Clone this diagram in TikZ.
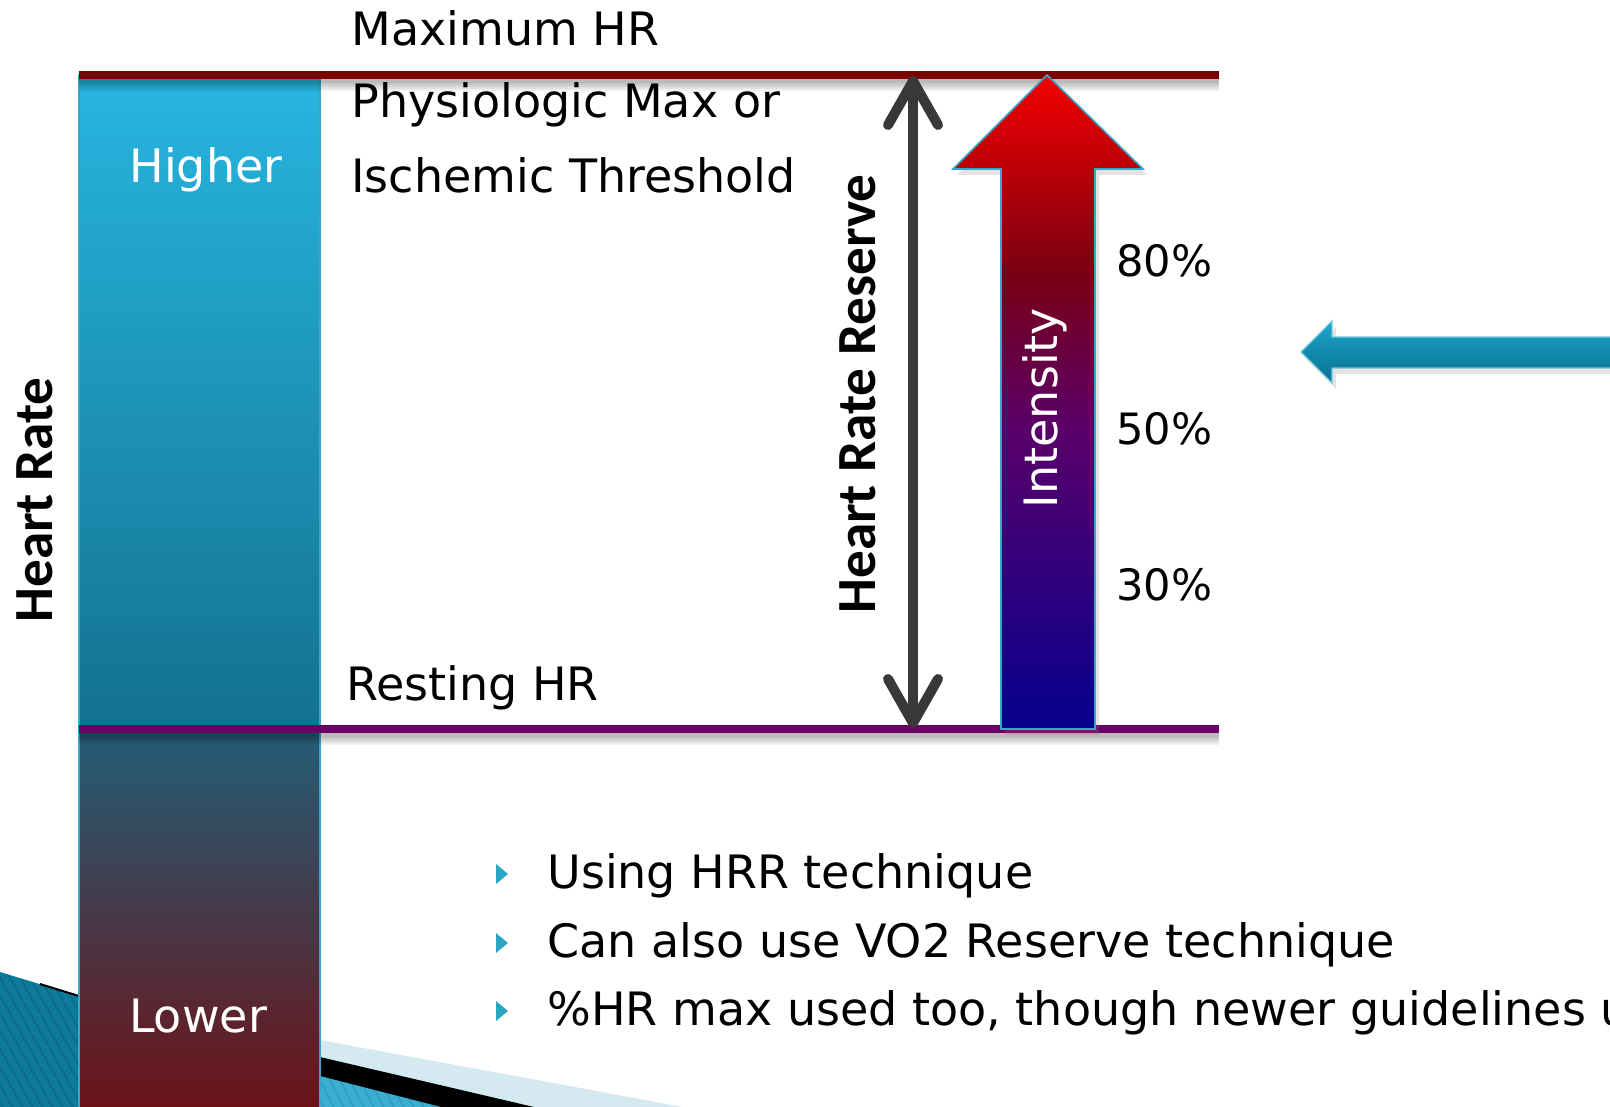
\documentclass[tikz,border=0pt]{standalone}
\usepackage{fontspec}
\setmainfont{DejaVu Sans}
\newfontfamily\labelfont{Carlito}
\usepackage{xcolor}
\usetikzlibrary{arrows.meta, positioning, calc, shadows}

\definecolor{maxline}{HTML}{7A0000}
\definecolor{restline}{HTML}{6A0066}
\definecolor{barTop}{HTML}{27B6E0}
\definecolor{barMid}{HTML}{13718F}
\definecolor{barLowTop}{HTML}{235E77}
\definecolor{barLowMid}{HTML}{463D50}
\definecolor{barLowBot}{HTML}{6C1218}
\definecolor{reserveGray}{HTML}{383838}
\definecolor{hotRed}{HTML}{F40000}
\definecolor{darkRed}{HTML}{7A0012}
\definecolor{plum}{HTML}{5A006A}
\definecolor{deepBlue}{HTML}{06008E}
\definecolor{arrowEdge}{HTML}{3AA6C6}
\definecolor{tealTop}{HTML}{1DA5CB}
\definecolor{tealBot}{HTML}{08708F}
\definecolor{bulletTeal}{HTML}{2AA5C2}
\definecolor{paleBlue}{HTML}{D5E9F1}
\definecolor{cornerTeal}{HTML}{0E7B9C}
\definecolor{cornerLight}{HTML}{3AAFD2}

% red at the top, through plum, to deep blue at the bottom
\pgfdeclareverticalshading{intensity}{100bp}{color(0bp)=(deepBlue); color(25bp)=(deepBlue); color(48bp)=(plum); color(60bp)=(darkRed); color(75bp)=(hotRed); color(100bp)=(hotRed)}

\begin{document}
\begin{tikzpicture}[
  x=0.5pt, y=-0.5pt,
  txt/.style={inner sep=0pt, anchor=base west, font=\fontsize{23}{27}\selectfont},
  bartxt/.style={txt, anchor=base, text=white},
  vlabel/.style={inner sep=0pt, rotate=90, anchor=base,
                 font=\labelfont\bfseries\fontsize{27.6}{31}\selectfont},
  pct/.style={inner sep=0pt, anchor=base west, font=\fontsize{21.6}{26}\selectfont},
  hrline/.style={line width=4pt},
  shadowline/.style={black, opacity=.06},
  reserve/.style={line width=5pt, reserveGray,
                  {Straight Barb[length=22pt,width=25pt,round]}-{Straight Barb[length=22pt,width=25pt,round]}},
  softshadow/.style={drop shadow={shadow xshift=2pt, shadow yshift=-3pt, opacity=.22}}
]
  \useasboundingbox (0,0) rectangle (1610,1107);
  \clip (0,0) rectangle (1610,1107);
  \fill[white] (0,0) rectangle (1610,1107);

  % corner bands
  \begin{scope}
    \clip (0,972) -- (79,996) -- (79,1107) -- (0,1107) -- cycle;
    \fill[cornerTeal] (0,960) rectangle (80,1107);
    \foreach \s in {-120,-110,...,80}
      \draw[black, opacity=.12, line width=1pt] (\s,960) -- ++(90,160);
  \end{scope}
  \draw[black, line width=1pt] (40,984) -- (79,996);
  \fill[paleBlue] (320,1040) -- (683,1107) -- (320,1107) -- cycle;
  \fill[black] (320,1057) -- (534,1107) -- (320,1107) -- cycle;
  \begin{scope}
    \clip (320,1076) -- (441,1107) -- (320,1107) -- cycle;
    \fill[cornerLight] (320,1070) rectangle (445,1107);
    \foreach \s in {240,250,...,440}
      \draw[black, opacity=.1, line width=1pt] (\s,1060) -- ++(30,60);
  \end{scope}

  % heart rate bar
  \fill[top color=barTop, bottom color=barMid] (79,75) rectangle (320,729);
  \fill[top color=barLowTop, middle color=barLowMid, bottom color=barLowBot]
    (79,729) rectangle (320,1110);
  \draw[arrowEdge, line width=.8pt] (79,75) rectangle (320,1112);

  % max and resting lines
  \coordinate (maxL) at (79,75);
  \coordinate (maxR) at (1219,75);
  \coordinate (restL) at (79,729);
  \coordinate (restR) at (1219,729);
  \foreach \w in {2,4,...,10} {
    \draw[shadowline, line width=\w pt] ($(maxL)+(0,6)$) -- ($(maxR)+(0,6)$);
    \draw[shadowline, line width=\w pt] ($(restL)+(0,6)$) -- ($(restR)+(0,6)$);
  }
  \draw[hrline, maxline] (maxL) -- (maxR);
  \draw[hrline, restline] (restL) -- (restR);

  % heart rate reserve
  \coordinate (hrrTop) at (913,76);
  \coordinate (hrrBot) at (913,728);
  \draw[reserve] (hrrBot) -- (hrrTop);

  % intensity arrow
  \path[softshadow, shade, shading=intensity, draw=arrowEdge, line width=.8pt]
    (1047,75) -- (1143,169) -- (1095,169) -- (1095,729) -- (1001,729)
    -- (1001,169) -- (953,169) -- cycle;
  \node[inner sep=0pt, rotate=90, anchor=base, text=white,
        font=\fontsize{23}{27}\selectfont] (intensity) at (1057,408) {Intensity};

  % labels
  \node[txt] (maxhr) at (351,46) {Maximum HR};
  \node[txt] (physio) at (351,118) {Physiologic Max or};
  \node[txt] (ischemic) at (351,193) {Ischemic Threshold};
  \node[txt] (resting) at (346,700) {Resting HR};
  \node[bartxt] (higher) at (206,183) {Higher};
  \node[bartxt] (lower) at (198,1032) {Lower};
  \node[vlabel] (hr) at (52,500) {Heart Rate};
  \node[vlabel] (hrr) at (875,394) {Heart Rate Reserve};
  \node[pct] (p80) at (1116,277) {80\%};
  \node[pct] (p50) at (1116,444) {50\%};
  \node[pct] (p30) at (1116,600) {30\%};

  % pointer from the right
  \path[softshadow, top color=tealTop, bottom color=tealBot, draw=tealTop!60!white, line width=.6pt]
    (1301,352) -- (1332,321) -- (1332,337) -- (1615,337) -- (1615,368)
    -- (1332,368) -- (1332,383) -- cycle;

  % bullet list
  \node[txt] (i1) at (547,888) {Using HRR technique};
  \node[txt] (i2) at (547,957) {Can also use VO2 Reserve technique};
  \node[txt] (i3) at (547,1025) {\%HR max used too, though newer guidelines u};
  \foreach \n in {i1,i2,i3}
    \fill[bulletTeal] ($(\n.base west)+(-51,-24)$) -- ++(12,10) -- ++(-12,10) -- cycle;
\end{tikzpicture}
\end{document}
